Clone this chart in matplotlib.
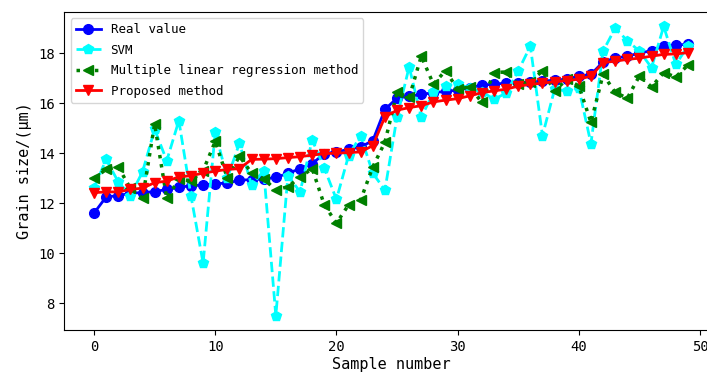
import matplotlib
matplotlib.use("Agg")
import matplotlib.pyplot as plt
import numpy as np

plt.rcParams['font.family'] = ['DejaVu Sans Mono']
plt.rcParams['axes.unicode_minus'] = False

# 样本编号
samples = np.arange(50)

real_value = [11.6, 12.25, 12.3, 12.4, 12.42, 12.46, 12.55, 12.63, 12.7, 12.72,
              12.78, 12.8, 12.92, 12.94, 12.96, 13.03, 13.19, 13.38, 13.58, 13.98,
              14.05, 14.15, 14.25, 14.5, 15.75, 16.2, 16.28, 16.35, 16.42, 16.47,
              16.52, 16.62, 16.72, 16.76, 16.8, 16.82, 16.85, 16.88, 16.92, 16.96,
              17.08, 17.15, 17.65, 17.8, 17.88, 18.0, 18.1, 18.28, 18.33, 18.35]

svm = [12.6, 13.75, 12.85, 12.3, 13.25, 14.95, 13.7, 15.3, 12.28, 9.6,
       14.84, 13.0, 14.4, 12.72, 13.3, 7.5, 13.1, 12.45, 14.53, 13.4,
       12.15, 13.9, 14.7, 13.2, 12.52, 15.45, 17.45, 15.43, 16.43, 16.7,
       16.76, 16.6, 16.45, 16.16, 16.4, 17.29, 18.28, 14.7, 16.55, 16.49,
       16.6, 14.38, 18.08, 19.0, 18.5, 18.08, 17.42, 19.07, 17.55, 18.28]

mlr = [12.99, 13.35, 13.45, 12.59, 12.19, 15.17, 12.19, 12.95, 12.9, 13.3,
       14.47, 13.0, 13.88, 13.2, 12.98, 12.52, 12.66, 13.04, 13.38, 11.93,
       11.2, 11.93, 12.13, 13.45, 14.44, 16.43, 16.23, 17.88, 16.76, 17.3,
       16.56, 16.65, 16.03, 17.22, 17.25, 16.75, 16.85, 17.29, 16.49, 16.95,
       16.69, 15.23, 17.15, 16.43, 16.2, 17.09, 16.65, 17.22, 17.05, 17.52]

proposed = [12.42, 12.45, 12.45, 12.55, 12.6, 12.82, 12.88, 13.05, 13.1, 13.2,
            13.28, 13.35, 13.38, 13.75, 13.76, 13.78, 13.82, 13.86, 13.92, 13.98,
            14.0, 14.02, 14.05, 14.3, 15.45, 15.72, 15.82, 15.9, 16.05, 16.12,
            16.18, 16.29, 16.42, 16.49, 16.56, 16.68, 16.75, 16.8, 16.86, 16.9,
            16.96, 17.08, 17.62, 17.68, 17.75, 17.8, 17.88, 17.95, 17.97, 18.02]

fig = plt.figure(figsize=(7.07, 3.73), dpi=100)
ax = fig.add_axes([0.091, 0.115, 0.924, 0.853])

ax.plot(samples, real_value, color='blue', linestyle='-', marker='o',
        linewidth=2, markersize=7, label='Real value')
ax.plot(samples, svm, color='cyan', linestyle='--', marker='p',
        linewidth=2, markersize=7, label='SVM')
ax.plot(samples, mlr, color='green', linestyle=':', marker='<',
        linewidth=2.5, markersize=7, label='Multiple linear regression method')
ax.plot(samples, proposed, color='red', linestyle='-', marker='v',
        linewidth=2, markersize=7, label='Proposed method')

ax.set_xlabel('Sample number', fontsize=11, labelpad=2)
ax.set_ylabel('Grain size/(μm)', fontsize=11)
ax.tick_params(labelsize=10)
ax.legend(loc='upper left', fontsize=9, labelspacing=0.6)

fig.savefig('out.png', dpi=100)
